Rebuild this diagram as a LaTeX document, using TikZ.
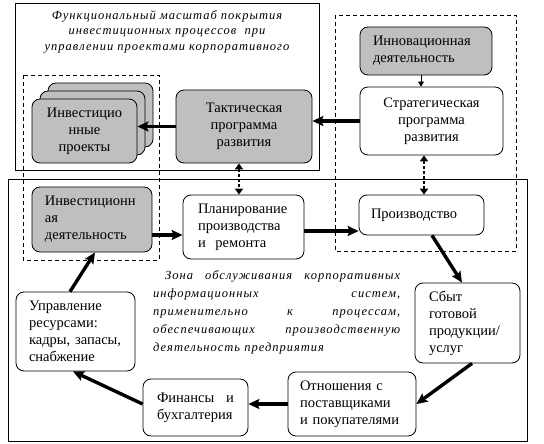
\documentclass[tikz,border=0pt]{standalone}
\usepackage{fontspec}
\setmainfont{Liberation Serif}
\newfontfamily\notefont[LetterSpace=8]{Liberation Serif}
\usetikzlibrary{arrows.meta,positioning}

\begin{document}
\begin{tikzpicture}[
    x=1pt, y=-1pt,
    block/.style={
        rectangle,
        draw=black,
        line width=0.8pt,
        fill=white,
        rounded corners=8pt,
        align=left,
        inner ysep=2pt,
        font=\fontsize{14.5}{17}\selectfont
    },
    block_gray/.style={
        block,
        fill=gray!50
    },
    frame/.style={
        draw=black,
        line width=0.8pt
    },
    zone/.style={
        draw=black,
        line width=0.7pt,
        dash pattern=on 4pt off 3pt
    },
    line/.style={
        draw,
        line width=3.4pt,
        -{Stealth[length=11pt,width=10pt,inset=2pt]}
    },
    line_thin/.style={
        draw,
        line width=0.8pt,
        -{Triangle[length=5pt,width=6pt]}
    },
    line_dotted/.style={
        draw,
        line width=2.6pt,
        dash pattern=on 3pt off 2pt,
        {Triangle[length=6pt,width=8pt]}-{Triangle[length=6pt,width=8pt]}
    },
    note/.style={
        inner sep=0pt,
        font=\notefont\itshape\fontsize{12.5}{15.5}\selectfont
    }
]
    \useasboundingbox (0,0) rectangle (544,444);

    % --- Frames and zones ---
    \draw [frame] (15,3) rectangle (319,170);
    \draw [frame] (8,179) rectangle (527,441);
    \draw [zone] (23,75) rectangle (159,260);
    \draw [zone] (335,15) rectangle (516,251);

    \node [note, align=center, anchor=north] (scope) at (167,10) {
        Функциональный масштаб покрытия\\
        инвестиционных процессов\ \ при\\
        управлении проектами корпоративного
    };

    \node [note, align=left, anchor=north west, text width=247pt,
           font=\notefont\itshape\fontsize{12.5}{18}\selectfont] (service) at (153,270) {
        \hspace*{12pt}Зона\hspace{\fill}обслуживания\hspace{\fill}корпоративных\\
        информационных\hspace{\fill}систем,\\
        применительно\hspace{\fill}к\hspace{\fill}процессам,\\
        обеспечивающих\hspace{\fill}производственную\\
        деятельность предприятия
    };

    % --- Upper part ---
    \node [block_gray, minimum width=105pt, minimum height=64pt] (proj3) at (100.5,115) {};
    \node [block_gray, minimum width=105pt, minimum height=64pt] (proj2) at (92.5,123) {};
    \node [block_gray, minimum width=105pt, minimum height=64pt, align=center,
           text width=90pt, inner xsep=7.5pt] (proj1) at (84.5,131) {
        Инвестицио\\нные\\проекты
    };

    \node [block_gray, minimum width=136pt, minimum height=73pt, align=center,
           text width=120pt, inner xsep=8pt] (tact) at (244,126.5) {
        Тактическая\\программа\\развития
    };

    \node [block_gray, minimum width=132pt, minimum height=48pt,
           text width=106pt, inner xsep=13pt] (innov) at (426,51) {
        Инновационная\\деятельность
    };

    \node [block, minimum width=143pt, minimum height=68pt, align=center,
           text width=127pt, inner xsep=8pt] (strat) at (431.5,121) {
        Стратегическая\\программа\\развития
    };

    % --- Lower part ---
    \node [block_gray, minimum width=120pt, minimum height=65pt,
           text width=94pt, inner xsep=13pt] (invact) at (92,219.5) {
        Инвестиционн\\ая\\деятельность
    };

    \node [block, minimum width=121pt, minimum height=64pt,
           text width=91pt, inner xsep=15pt] (plan) at (243.5,227) {
        Планирование\\производства\\и\ \ ремонта
    };

    \node [block, minimum width=125pt, minimum height=40pt,
           text width=101pt, inner xsep=12pt] (prod) at (421.5,215) {
        Производство
    };

    \node [block, minimum width=105pt, minimum height=80pt,
           text width=77pt, inner xsep=14pt] (sales) at (467.5,323) {
        Сбыт\\готовой\\продукции/\\услуг
    };

    \node [block, minimum width=128pt, minimum height=64pt,
           text width=104pt, inner xsep=12pt] (rel) at (352,404) {
        Отношения с\\поставщиками\\и покупателями
    };

    \node [block, minimum width=105pt, minimum height=57pt,
           text width=77pt, inner xsep=14pt] (fin) at (195.5,407.5) {
        Финансы\hspace{\fill}и\\бухгалтерия
    };

    \node [block, minimum width=119pt, minimum height=79pt,
           text width=97pt, inner xsep=11pt] (res) at (75.5,331.5) {
        \hspace*{2pt}Управление\\\hspace*{2pt}ресурсами:\\\hspace*{2pt}\mbox{кадры, запасы,}\\\hspace*{2pt}снабжение
    };

    % --- Flow lines ---
    \path [line] (strat.west) -- (strat.west -| tact.east);
    \path [line] (tact.west) -- (tact.west -| proj1.east);

    \coordinate (c1) at ([xshift=-5pt]innov.south);
    \path [line_thin] (c1) -- (c1 |- strat.north);

    \coordinate (d1) at ([xshift=-5pt]tact.south);
    \path [line_dotted] (d1) -- (d1 |- plan.north);
    \coordinate (d2) at ([xshift=-7.5pt]strat.south);
    \path [line_dotted] (d2) -- (d2 |- prod.north);

    \coordinate (a1) at ([yshift=-15.5pt]invact.east);
    \path [line] (a1) -- (a1 -| plan.west);
    \coordinate (a2) at ([yshift=-4pt]plan.east);
    \path [line] (a2) -- (a2 -| prod.west);
    \path [line] ([xshift=10.5pt]prod.south) -- ([xshift=-5.5pt]sales.north);
    \path [line] ([xshift=4.5pt]sales.south) -- (rel.east);
    \path [line] (rel.west) -- (rel.west -| fin.east);
    \path [line] ([yshift=3.5pt]fin.west) -- ([xshift=-2.5pt]res.south);
    \path [line] ([xshift=-5.5pt]res.north) -- ([xshift=3pt]invact.south);

\end{tikzpicture}
\end{document}
